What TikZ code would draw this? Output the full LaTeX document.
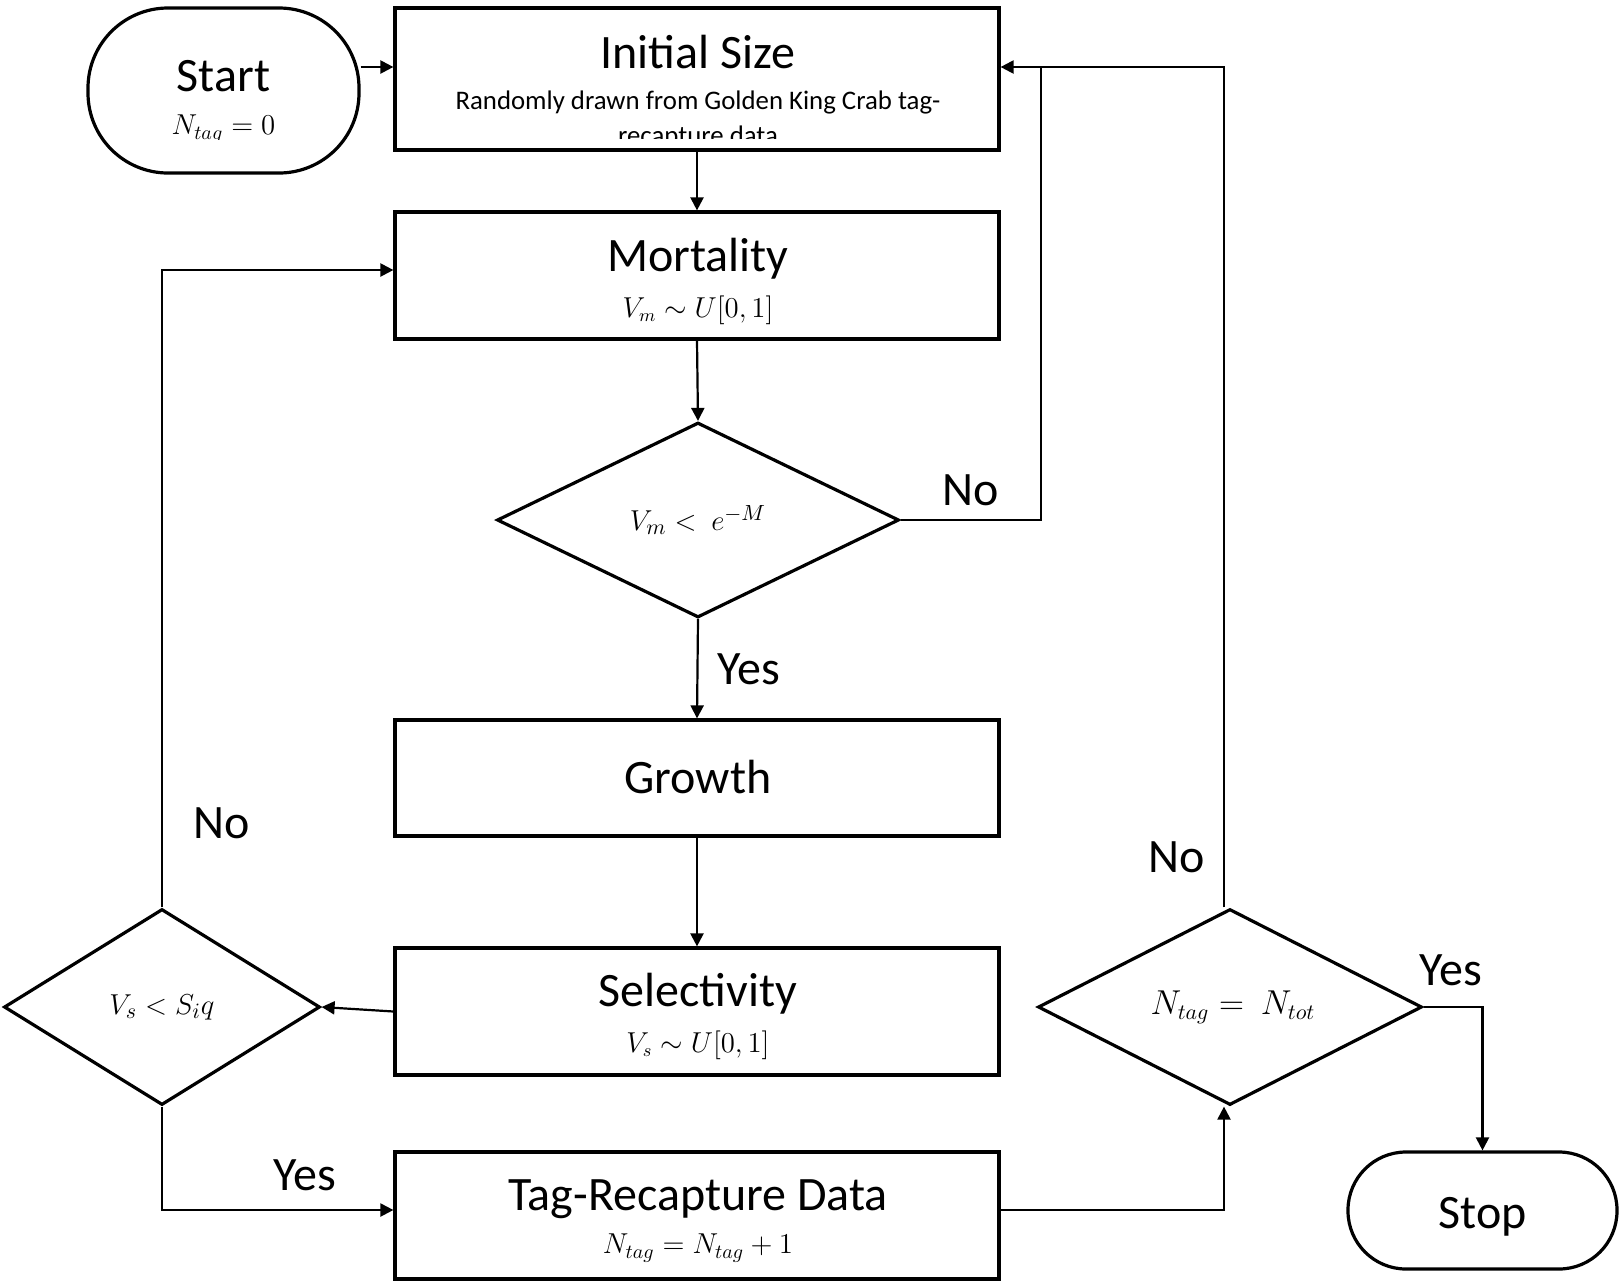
\documentclass[tikz,border=0pt]{standalone}
\usepackage{fontspec}
\setmainfont{Carlito}
\usetikzlibrary{shapes.geometric,arrows.meta}
\begin{document}
\begin{tikzpicture}[x=0.5pt,y=-0.5pt,
  box/.style={draw,line width=1.6pt,minimum width=302pt,inner sep=0pt},
  term/.style={draw,line width=1.6pt,inner sep=0pt},
  dia/.style={draw,diamond,line width=1.6pt,inner sep=0pt},
  conn/.style={line width=1.1pt},
  arr/.style={conn,-{Triangle[length=6.5pt,width=6.5pt]}},
  ttl/.style={font=\fontsize{24}{28}\selectfont,inner sep=0pt},
  sub/.style={font=\fontsize{13.4}{16}\selectfont,inner sep=0pt},
  bmath/.style={font=\fontsize{13.5}{16}\selectfont,inner sep=0pt},
  dmath/.style={font=\fontsize{15}{18}\selectfont,inner sep=0pt},
  lbl/.style={font=\fontsize{24}{28}\selectfont,inner sep=0pt}]
\useasboundingbox (0,0) rectangle (1619,1281);

% shapes
\node[term,rounded corners=40pt,minimum width=135.5pt,minimum height=82.5pt] (start) at (223.5,90.5) {};
\node[box,minimum height=71pt] (init) at (697,79) {};
\node[box,minimum height=63.5pt] (mort) at (697,275.5) {};
\node[dia,minimum width=201pt,minimum height=97.5pt] (d1) at (698,520) {};
\node[box,minimum height=58pt] (growth) at (697,778) {};
\node[box,minimum height=63.5pt] (sel) at (697,1011.5) {};
\node[dia,minimum width=158pt,minimum height=98pt] (d2) at (162,1007) {};
\node[box,minimum height=63.5pt] (tag) at (697,1215.5) {};
\node[dia,minimum width=192pt,minimum height=98pt] (d3) at (1230,1007) {};
\node[term,rounded corners=29pt,minimum width=134.5pt,minimum height=58.5pt] (stop) at (1482.5,1210.5) {};

% texts
\node[ttl] (tstart) at (223.5,76) {Start};
\begin{scope}
  \clip (88,8) rectangle (359,139);
  \node[bmath,font=\fontsize{14}{16}\selectfont] (mstart) at (223.5,129) {$N_{tag}=0$};
\end{scope}
\node[ttl] (tinit) at (698,52) {Initial Size};
\node[sub] (sinit1) at (698,102) {Randomly drawn from Golden King Crab tag-};
\begin{scope}
  \clip (395,8) rectangle (999,138);
  \node[sub] (sinit2) at (698,137) {recapture data};
\end{scope}
\node[ttl] (tmort) at (698,259) {Mortality};
\node[bmath] (mmort) at (698,310) {$V_m \sim U[0,1]$};
\node[dmath] (md1) at (698,520) {$V_m <\ e^{-M}$};
\node[ttl] (tgrowth) at (698,777) {Growth};
\node[ttl] (tsel) at (698,994) {Selectivity};
\node[bmath] (msel) at (698,1045) {$V_s \sim U[0,1]$};
\node[dmath] (md2) at (162,1007) {$V_s < S_i q$};
\node[ttl] (ttag) at (698,1199) {Tag-Recapture Data};
\node[bmath,font=\fontsize{14.5}{17}\selectfont] (mtag) at (698,1248) {$N_{tag} = N_{tag}+1$};
\node[dmath,font=\fontsize{16}{19}\selectfont] (md3) at (1233,1007) {$N_{tag} =\ N_{tot}$};
\node[ttl] (tstop) at (1482.5,1217) {Stop};

% labels
\node[lbl] (no1) at (971,490) {No};
\node[lbl] (yes1) at (749,669) {Yes};
\node[lbl] (no2) at (222,823) {No};
\node[lbl] (yes2) at (305,1175) {Yes};
\node[lbl] (no3) at (1177,857) {No};
\node[lbl] (yes3) at (1451,970) {Yes};

% helper coordinates
\coordinate (ytop) at (0,67);
\coordinate (xr1) at (1041,0);
\coordinate (xr3) at (1224,0);
\coordinate (yl) at (0,270);
\coordinate (yb) at (0,1210);

% connectors
\draw[arr] (start.east |- ytop) -- (init.west |- ytop);
\draw[arr] (init.south) -- (mort.north);
\draw[arr] (mort.south) -- (d1.north);
\draw[conn] (d1.east) -- (xr1 |- d1.east) -- (xr1 |- ytop);
\draw[arr] (xr3 |- d3.north) -- (xr3 |- ytop) -- (init.east |- ytop);
\draw[arr] (d1.south) -- (growth.north);
\draw[arr] (growth.south) -- (sel.north);
\draw[arr] (sel.west) -- (d2.east);
\draw[arr] (d2.north) -- (d2.north |- yl) -- (mort.west |- yl);
\draw[arr] (d2.south) -- (d2.south |- yb) -- (tag.west |- yb);
\draw[arr] (tag.east |- yb) -- (xr3 |- yb) -- (xr3 |- d3.south);
\draw[arr] (d3.east) -- (stop.north |- d3.east) -- (stop.north);
\end{tikzpicture}
\end{document}
